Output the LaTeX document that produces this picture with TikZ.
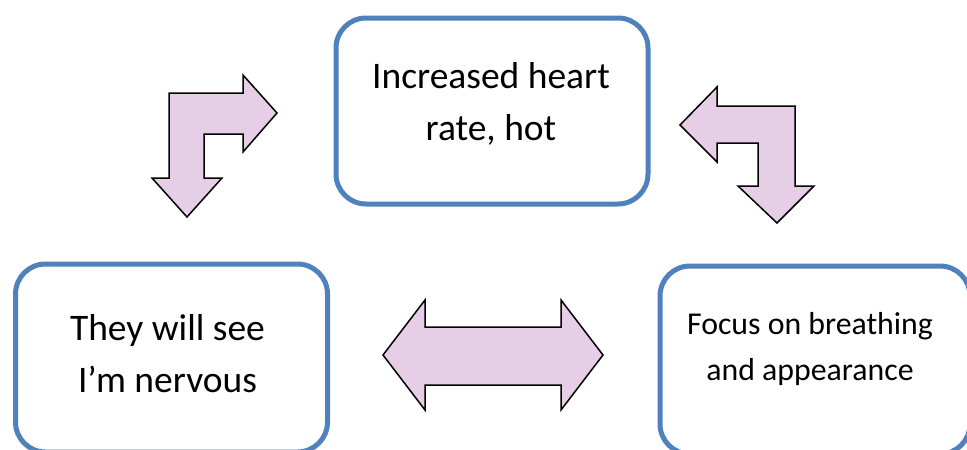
\documentclass[tikz,border=0pt]{standalone}
\usepackage{fontspec}
\setmainfont{Carlito}
\usepackage{tikz}
\usetikzlibrary{positioning,calc}
\definecolor{boxblue}{RGB}{79,129,189}
\definecolor{arrowpink}{RGB}{230,206,231}
\tikzset{
  thoughtbox/.style={rectangle, rounded corners=30pt, draw=boxblue, line width=5pt,
                     fill=white, minimum width=312pt, minimum height=188pt},
  bigwords/.style={align=center, inner sep=0pt, font=\fontsize{37.5pt}{52pt}\selectfont},
  smallwords/.style={align=center, inner sep=0pt, font=\fontsize{31.8pt}{46pt}\selectfont},
  blockarrow/.style={fill=arrowpink, draw=black, line width=1.5pt, line join=miter}
}

\begin{document}
\begin{tikzpicture}[x=1pt,y=-1pt]
      \useasboundingbox (0,0) rectangle (967,450);

      % Draw the three boxes.
      \node[thoughtbox, minimum height=186pt] (heart) at (492,111) {};
      \node[thoughtbox] (nervous) at (171.5,358) {};
      \node[thoughtbox, minimum width=310pt] (focus) at (815,360) {};

      % Put the words in the boxes.
      \node[bigwords] (heartText) at ($(heart.center)+(-1,-7)$) {Increased heart\\rate, hot};
      \node[bigwords] (nervousText) at ($(nervous.center)+(-4,-4)$) {They will see\\I’m nervous};
      \node[smallwords] (focusText) at ($(focus.center)+(-5,-11)$) {Focus on breathing\\and appearance};

      % Bent arrow from the left box up to the top box.
      \draw[blockarrow] (169,93) -- (243,93) -- (243,75) -- (277,113) -- (243,152)
      -- (243,134) -- (204,134) -- (204,178) -- (222,178) -- (187,217) -- (152,178)
      -- (169,178) -- cycle;

      % Bent arrow from the top box down to the right box.
      \draw[blockarrow] (795,106) -- (717,106) -- (717,87) -- (680,125) -- (717,162)
      -- (717,143) -- (758,143) -- (758,186) -- (738,186) -- (777,223) -- (814,186)
      -- (795,186) -- cycle;

      % Double arrow between the two bottom boxes.
      \draw[blockarrow] (383,355) -- (425,300) -- (425,327) -- (561,327) -- (561,300)
      -- (603,355) -- (561,410) -- (561,385) -- (425,385) -- (425,410) -- cycle;

\end{tikzpicture}
\end{document}
